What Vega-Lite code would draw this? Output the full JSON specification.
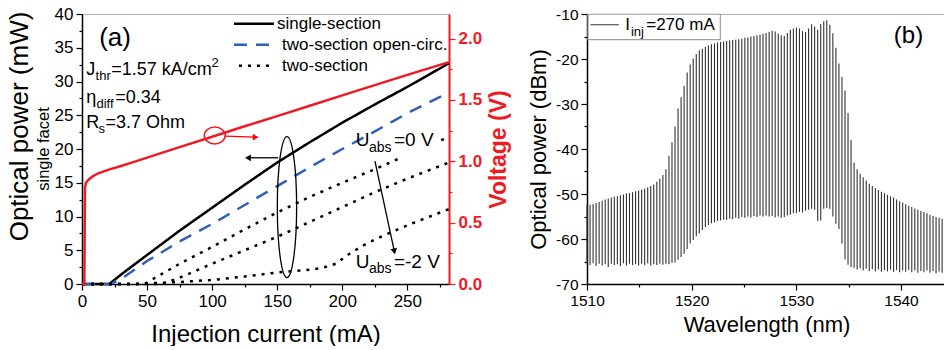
{
  "$schema": "https://vega.github.io/schema/vega-lite/v6.json",
  "background": "white",
  "padding": {"left": 6, "top": 5, "right": 0, "bottom": 0},
  "spacing": 16,
  "config": {
    "font": "Liberation Sans",
    "view": {"stroke": null},
    "axis": {"domainColor": "black", "tickColor": "black", "labelColor": "black", "titleColor": "black", "titleFontWeight": "normal", "grid": false, "domainWidth": 1.5, "tickWidth": 1.2, "labelFlush": false, "labelOverlap": false}
  },
  "hconcat": [
    {
      "width": 367,
      "height": 270,
      "layer": [
        {
          "layer": [
            {
              "data": {"values": [
                {"I": 0, "P": 0, "series": "single-section", "curve": "S"},
                {"I": 21, "P": 0, "series": "single-section", "curve": "S"},
                {"I": 30, "P": 1.4, "series": "single-section", "curve": "S"},
                {"I": 50, "P": 4.3, "series": "single-section", "curve": "S"},
                {"I": 75, "P": 7.9, "series": "single-section", "curve": "S"},
                {"I": 100, "P": 11.3, "series": "single-section", "curve": "S"},
                {"I": 125, "P": 14.7, "series": "single-section", "curve": "S"},
                {"I": 150, "P": 18.0, "series": "single-section", "curve": "S"},
                {"I": 175, "P": 21.0, "series": "single-section", "curve": "S"},
                {"I": 200, "P": 23.9, "series": "single-section", "curve": "S"},
                {"I": 225, "P": 26.6, "series": "single-section", "curve": "S"},
                {"I": 250, "P": 29.2, "series": "single-section", "curve": "S"},
                {"I": 282, "P": 32.7, "series": "single-section", "curve": "S"},
                {"I": 0, "P": 0, "series": "two-section open-circ.", "curve": "O"},
                {"I": 22, "P": 0, "series": "two-section open-circ.", "curve": "O"},
                {"I": 30, "P": 0.7, "series": "two-section open-circ.", "curve": "O"},
                {"I": 35, "P": 1.4, "series": "two-section open-circ.", "curve": "O"},
                {"I": 50, "P": 3.4, "series": "two-section open-circ.", "curve": "O"},
                {"I": 75, "P": 6.3, "series": "two-section open-circ.", "curve": "O"},
                {"I": 100, "P": 8.9, "series": "two-section open-circ.", "curve": "O"},
                {"I": 125, "P": 11.7, "series": "two-section open-circ.", "curve": "O"},
                {"I": 150, "P": 14.5, "series": "two-section open-circ.", "curve": "O"},
                {"I": 175, "P": 17.3, "series": "two-section open-circ.", "curve": "O"},
                {"I": 200, "P": 20.0, "series": "two-section open-circ.", "curve": "O"},
                {"I": 225, "P": 22.6, "series": "two-section open-circ.", "curve": "O"},
                {"I": 250, "P": 25.3, "series": "two-section open-circ.", "curve": "O"},
                {"I": 282, "P": 28.4, "series": "two-section open-circ.", "curve": "O"},
                {"I": 0, "P": 0, "series": "two-section", "curve": "A"},
                {"I": 48, "P": 0, "series": "two-section", "curve": "A"},
                {"I": 56, "P": 0.9, "series": "two-section", "curve": "A"},
                {"I": 75, "P": 3.0, "series": "two-section", "curve": "A"},
                {"I": 100, "P": 5.5, "series": "two-section", "curve": "A"},
                {"I": 125, "P": 8.1, "series": "two-section", "curve": "A"},
                {"I": 150, "P": 10.6, "series": "two-section", "curve": "A"},
                {"I": 175, "P": 12.9, "series": "two-section", "curve": "A"},
                {"I": 200, "P": 15.0, "series": "two-section", "curve": "A"},
                {"I": 225, "P": 17.0, "series": "two-section", "curve": "A"},
                {"I": 246, "P": 18.8, "series": "two-section", "curve": "A"},
                {"I": 276, "P": 21.3, "series": "two-section", "curve": "A2"},
                {"I": 282, "P": 21.8, "series": "two-section", "curve": "A2"},
                {"I": 0, "P": 0, "series": "two-section", "curve": "B"},
                {"I": 62, "P": 0, "series": "two-section", "curve": "B"},
                {"I": 77, "P": 1.1, "series": "two-section", "curve": "B"},
                {"I": 100, "P": 3.0, "series": "two-section", "curve": "B"},
                {"I": 125, "P": 5.0, "series": "two-section", "curve": "B"},
                {"I": 150, "P": 7.0, "series": "two-section", "curve": "B"},
                {"I": 175, "P": 9.2, "series": "two-section", "curve": "B"},
                {"I": 200, "P": 11.4, "series": "two-section", "curve": "B"},
                {"I": 225, "P": 13.6, "series": "two-section", "curve": "B"},
                {"I": 250, "P": 15.6, "series": "two-section", "curve": "B"},
                {"I": 282, "P": 18.0, "series": "two-section", "curve": "B"},
                {"I": 0, "P": 0, "series": "two-section", "curve": "C"},
                {"I": 40, "P": 0, "series": "two-section", "curve": "C"},
                {"I": 75, "P": 0.3, "series": "two-section", "curve": "C"},
                {"I": 100, "P": 0.6, "series": "two-section", "curve": "C"},
                {"I": 125, "P": 1.1, "series": "two-section", "curve": "C"},
                {"I": 150, "P": 1.7, "series": "two-section", "curve": "C"},
                {"I": 175, "P": 2.1, "series": "two-section", "curve": "C"},
                {"I": 185, "P": 2.4, "series": "two-section", "curve": "C"},
                {"I": 195, "P": 3.0, "series": "two-section", "curve": "C"},
                {"I": 205, "P": 4.4, "series": "two-section", "curve": "C"},
                {"I": 215, "P": 5.6, "series": "two-section", "curve": "C"},
                {"I": 225, "P": 6.6, "series": "two-section", "curve": "C"},
                {"I": 250, "P": 8.7, "series": "two-section", "curve": "C"},
                {"I": 282, "P": 11.1, "series": "two-section", "curve": "C"}
              ]},
              "mark": {"type": "line", "strokeWidth": 2.5, "strokeCap": "butt"},
              "encoding": {
                "x": {"field": "I", "type": "quantitative", "scale": {"domain": [0, 282], "nice": false, "zero": false},
                  "axis": {"orient": "bottom", "title": "Injection current (mA)", "titleFontSize": 24, "titlePadding": 13, "labelFontSize": 17, "labelPadding": 3,
                    "values": [0, 25, 50, 75, 100, 125, 150, 175, 200, 225, 250, 275],
                    "labelExpr": "datum.value % 50 === 0 ? datum.label : ''",
                    "tickSize": {"condition": {"test": "datum.value % 50 !== 0", "value": 3}, "value": 6}}},
                "y": {"field": "P", "type": "quantitative", "scale": {"domain": [0, 40], "nice": false, "zero": false},
                  "axis": {"orient": "left", "title": "Optical power (mW)", "titleFontSize": 26, "titlePadding": 22, "titleY": 112, "labelFontSize": 17, "labelPadding": 3,
                    "values": [0, 2.5, 5, 7.5, 10, 12.5, 15, 17.5, 20, 22.5, 25, 27.5, 30, 32.5, 35, 37.5, 40],
                    "labelExpr": "datum.value % 5 === 0 ? datum.label : ''",
                    "tickSize": {"condition": {"test": "datum.value % 5 !== 0", "value": 3}, "value": 6}}},
                "color": {"field": "series", "type": "nominal",
                  "scale": {"domain": ["single-section", "two-section open-circ.", "two-section"], "range": ["black", "#2f62b5", "black"]}, "legend": null},
                "strokeDash": {"field": "series", "type": "nominal",
                  "scale": {"domain": ["single-section", "two-section open-circ.", "two-section"], "range": [[1, 0], [13, 9], [3, 6]]}, "legend": null},
                "detail": {"field": "curve", "type": "nominal"}
              }
            },
            {
              "data": {"values": [
                {"series": "single-section", "x1": 116.8, "x2": 147.5, "P": 38.56},
                {"series": "two-section open-circ.", "x1": 116.8, "x2": 147.5, "P": 35.45},
                {"series": "two-section", "x1": 120.6, "x2": 147.5, "P": 32.34}
              ]},
              "mark": {"type": "rule", "strokeWidth": 2.5, "strokeCap": "butt"},
              "encoding": {
                "x": {"field": "x1", "type": "quantitative", "scale": {"domain": [0, 282], "nice": false, "zero": false}, "axis": null},
                "x2": {"field": "x2"},
                "y": {"field": "P", "type": "quantitative", "scale": {"domain": [0, 40], "nice": false, "zero": false}, "axis": null},
                "color": {"field": "series", "type": "nominal",
                  "scale": {"domain": ["single-section", "two-section open-circ.", "two-section"], "range": ["black", "#2f62b5", "black"]}, "legend": null},
                "strokeDash": {"field": "series", "type": "nominal",
                  "scale": {"domain": ["single-section", "two-section open-circ.", "two-section"], "range": [[1, 0], [13, 9], [3, 6]]}, "legend": null}
              }
            },
            {
              "data": {"values": [
                {"I": 149.8, "P": 38.56, "t": "single-section"},
                {"I": 153.7, "P": 35.45, "t": "two-section open-circ."},
                {"I": 153.7, "P": 32.34, "t": "two-section"}
              ]},
              "mark": {"type": "text", "fontSize": 17, "align": "left", "baseline": "middle", "color": "black"},
              "encoding": {
                "x": {"field": "I", "type": "quantitative", "scale": {"domain": [0, 282], "nice": false, "zero": false}, "axis": null},
                "y": {"field": "P", "type": "quantitative", "scale": {"domain": [0, 40], "nice": false, "zero": false}, "axis": null},
                "text": {"field": "t"}
              }
            },
            {
              "data": {"values": [{"I": 0, "P": 40}, {"I": 282, "P": 40}]},
              "mark": {"type": "rule", "opacity": 0},
              "encoding": {
                "x": {"field": "I", "type": "quantitative", "scale": {"domain": [0, 282], "nice": false, "zero": false},
                  "axis": {"orient": "top", "labels": false, "ticks": false, "title": null, "domainColor": "#b5b5b5", "domainWidth": 1}},
                "y": {"field": "P", "type": "quantitative", "scale": {"domain": [0, 40], "nice": false, "zero": false}, "axis": null}
              }
            },
            {
              "data": {"values": [
                {"I": 3.3, "P": 31.0, "t": "J"},
                {"I": 22.4, "P": 31.0, "t": "=1.57 kA/cm"},
                {"I": 3.3, "P": 26.86, "t": "η"},
                {"I": 25.6, "P": 26.86, "t": "=0.34"},
                {"I": 3.3, "P": 23.16, "t": "R"},
                {"I": 18.1, "P": 23.16, "t": "=3.7 Ohm"}
              ]},
              "mark": {"type": "text", "fontSize": 18, "align": "left", "baseline": "alphabetic", "color": "black"},
              "encoding": {
                "x": {"field": "I", "type": "quantitative", "scale": {"domain": [0, 282], "nice": false, "zero": false}, "axis": null},
                "y": {"field": "P", "type": "quantitative", "scale": {"domain": [0, 40], "nice": false, "zero": false}, "axis": null},
                "text": {"field": "t"}
              }
            },
            {
              "data": {"values": [
                {"I": 10.4, "P": 30.27, "t": "thr"},
                {"I": 99.5, "P": 32.2, "t": "2"},
                {"I": 11.1, "P": 26.12, "t": "diff"},
                {"I": 12.7, "P": 22.4, "t": "s"}
              ]},
              "mark": {"type": "text", "fontSize": 13, "align": "left", "baseline": "alphabetic", "color": "black"},
              "encoding": {
                "x": {"field": "I", "type": "quantitative", "scale": {"domain": [0, 282], "nice": false, "zero": false}, "axis": null},
                "y": {"field": "P", "type": "quantitative", "scale": {"domain": [0, 40], "nice": false, "zero": false}, "axis": null},
                "text": {"field": "t"}
              }
            },
            {
              "data": {"values": [
                {"I": 210.3, "P": 20.39, "t": "U"},
                {"I": 239.7, "P": 20.39, "t": "=0 V"},
                {"I": 210.3, "P": 2.37, "t": "U"},
                {"I": 239.7, "P": 2.37, "t": "=-2 V"}
              ]},
              "mark": {"type": "text", "fontSize": 19, "align": "left", "baseline": "alphabetic", "color": "black"},
              "encoding": {
                "x": {"field": "I", "type": "quantitative", "scale": {"domain": [0, 282], "nice": false, "zero": false}, "axis": null},
                "y": {"field": "P", "type": "quantitative", "scale": {"domain": [0, 40], "nice": false, "zero": false}, "axis": null},
                "text": {"field": "t"}
              }
            },
            {
              "data": {"values": [
                {"I": 220.5, "P": 19.6, "t": "abs"},
                {"I": 220.5, "P": 1.6, "t": "abs"}
              ]},
              "mark": {"type": "text", "fontSize": 14, "align": "left", "baseline": "alphabetic", "color": "black"},
              "encoding": {
                "x": {"field": "I", "type": "quantitative", "scale": {"domain": [0, 282], "nice": false, "zero": false}, "axis": null},
                "y": {"field": "P", "type": "quantitative", "scale": {"domain": [0, 40], "nice": false, "zero": false}, "axis": null},
                "text": {"field": "t"}
              }
            },
            {
              "data": {"values": [{"I": 25.4, "P": 36.5, "t": "(a)"}]},
              "mark": {"type": "text", "fontSize": 26, "align": "center", "baseline": "middle", "color": "black"},
              "encoding": {
                "x": {"field": "I", "type": "quantitative", "scale": {"domain": [0, 282], "nice": false, "zero": false}, "axis": null},
                "y": {"field": "P", "type": "quantitative", "scale": {"domain": [0, 40], "nice": false, "zero": false}, "axis": null},
                "text": {"field": "t"}
              }
            },
            {
              "data": {"values": [{"I": -29.4, "P": 20.0, "t": "single facet"}]},
              "mark": {"type": "text", "fontSize": 16.5, "angle": 270, "align": "center", "baseline": "middle", "color": "black"},
              "encoding": {
                "x": {"field": "I", "type": "quantitative", "scale": {"domain": [0, 282], "nice": false, "zero": false}, "axis": null},
                "y": {"field": "P", "type": "quantitative", "scale": {"domain": [0, 40], "nice": false, "zero": false}, "axis": null},
                "text": {"field": "t"}
              }
            },
            {
              "data": {"values": [
                {"I": 109.6, "P": 21.9, "I2": 133, "P2": 21.75, "c": "red"},
                {"I": 150.8, "P": 18.7, "I2": 128, "P2": 18.7, "c": "black"},
                {"I": 225.1, "P": 18.2, "I2": 240.0, "P2": 4.84, "c": "black"}
              ]},
              "mark": {"type": "rule", "strokeWidth": 1.3},
              "encoding": {
                "x": {"field": "I", "type": "quantitative", "scale": {"domain": [0, 282], "nice": false, "zero": false}, "axis": null},
                "y": {"field": "P", "type": "quantitative", "scale": {"domain": [0, 40], "nice": false, "zero": false}, "axis": null},
                "x2": {"field": "I2"},
                "y2": {"field": "P2"},
                "color": {"field": "c", "type": "nominal", "scale": null, "legend": null}
              }
            },
            {
              "data": {"values": [
                {"I": 133.5, "P": 21.75, "c": "red", "a": 90},
                {"I": 127.5, "P": 18.7, "c": "black", "a": 270},
                {"I": 240.0, "P": 4.84, "c": "black", "a": 168}
              ]},
              "mark": {"type": "point", "shape": "triangle-up", "filled": true, "size": 45, "opacity": 1},
              "encoding": {
                "x": {"field": "I", "type": "quantitative", "scale": {"domain": [0, 282], "nice": false, "zero": false}, "axis": null},
                "y": {"field": "P", "type": "quantitative", "scale": {"domain": [0, 40], "nice": false, "zero": false}, "axis": null},
                "angle": {"field": "a", "type": "quantitative", "scale": null},
                "color": {"field": "c", "type": "nominal", "scale": null, "legend": null}
              }
            },
            {
              "data": {"values": [{"I": 157.5, "P": 11.4}]},
              "mark": {"type": "point", "shape": "M0,-1A0.137,1 0 1,1 0,1A0.137,1 0 1,1 0,-1Z", "filled": false, "size": 19881, "stroke": "black", "strokeWidth": 1.3, "opacity": 1},
              "encoding": {
                "x": {"field": "I", "type": "quantitative", "scale": {"domain": [0, 282], "nice": false, "zero": false}, "axis": null},
                "y": {"field": "P", "type": "quantitative", "scale": {"domain": [0, 40], "nice": false, "zero": false}, "axis": null}
              }
            },
            {
              "data": {"values": [{"I": 102, "P": 22.0}]},
              "mark": {"type": "point", "shape": "M-1,0A1,0.8 0 1,1 1,0A1,0.8 0 1,1 -1,0Z", "filled": false, "size": 441, "stroke": "#ed1c24", "strokeWidth": 1.5, "opacity": 1},
              "encoding": {
                "x": {"field": "I", "type": "quantitative", "scale": {"domain": [0, 282], "nice": false, "zero": false}, "axis": null},
                "y": {"field": "P", "type": "quantitative", "scale": {"domain": [0, 40], "nice": false, "zero": false}, "axis": null}
              }
            }
          ],
          "resolve": {"axis": {"x": "independent", "y": "independent"}}
        },
        {
          "data": {"values": [
            {"I": 0, "V": 0}, {"I": 1.8, "V": 0}, {"I": 2.3, "V": 0.785}, {"I": 3, "V": 0.825}, {"I": 5, "V": 0.85},
            {"I": 8, "V": 0.875}, {"I": 12, "V": 0.9}, {"I": 20, "V": 0.93}, {"I": 30, "V": 0.962}, {"I": 40, "V": 0.995},
            {"I": 50, "V": 1.03}, {"I": 75, "V": 1.115}, {"I": 100, "V": 1.2}, {"I": 125, "V": 1.285}, {"I": 150, "V": 1.368},
            {"I": 175, "V": 1.452}, {"I": 200, "V": 1.537}, {"I": 225, "V": 1.62}, {"I": 250, "V": 1.704}, {"I": 282, "V": 1.808}
          ]},
          "mark": {"type": "line", "color": "#ed1c24", "strokeWidth": 2.5},
          "encoding": {
            "x": {"field": "I", "type": "quantitative", "scale": {"domain": [0, 282], "nice": false, "zero": false}, "axis": null},
            "y": {"field": "V", "type": "quantitative", "scale": {"domain": [0, 2.2], "nice": false, "zero": false},
              "axis": {"orient": "right", "title": "Voltage (V)", "titleColor": "#ed1c24", "titleFontWeight": "bold", "titleFontSize": 23, "titleAngle": 270, "titleBaseline": "top", "titlePadding": 6,
                "labelColor": "#ed1c24", "labelFontWeight": "bold", "labelFontSize": 17, "labelPadding": 3, "domainColor": "#ed1c24", "tickColor": "#ed1c24", "domainWidth": 2,
                "values": [0, 0.25, 0.5, 0.75, 1, 1.25, 1.5, 1.75, 2], "format": ".1f",
                "labelExpr": "round(datum.value * 100) % 50 === 0 ? datum.label : ''",
                "tickSize": {"condition": {"test": "round(datum.value * 100) % 50 !== 0", "value": 3}, "value": 6}}}
          }
        }
      ],
      "resolve": {"scale": {"y": "independent"}}
    },
    {
      "width": 359,
      "height": 270,
      "layer": [
        {
          "data": {"values": [
            {"w": 1510.00, "hi": -52.5, "lo": -65.3}, {"w": 1510.29, "hi": -52.4, "lo": -65.8}, {"w": 1510.58, "hi": -52.2, "lo": -65.4},
            {"w": 1510.87, "hi": -52.0, "lo": -66.0}, {"w": 1511.16, "hi": -51.8, "lo": -65.5}, {"w": 1511.45, "hi": -51.5, "lo": -65.9},
            {"w": 1511.74, "hi": -51.2, "lo": -65.6}, {"w": 1512.03, "hi": -51.0, "lo": -66.2}, {"w": 1512.32, "hi": -50.8, "lo": -65.5},
            {"w": 1512.61, "hi": -50.6, "lo": -65.8}, {"w": 1512.90, "hi": -50.5, "lo": -65.6}, {"w": 1513.19, "hi": -50.3, "lo": -66.0},
            {"w": 1513.48, "hi": -50.1, "lo": -65.4}, {"w": 1513.77, "hi": -49.9, "lo": -65.9}, {"w": 1514.06, "hi": -49.8, "lo": -65.5},
            {"w": 1514.35, "hi": -49.6, "lo": -65.8}, {"w": 1514.64, "hi": -49.4, "lo": -65.6}, {"w": 1514.93, "hi": -49.2, "lo": -65.9},
            {"w": 1515.22, "hi": -49.0, "lo": -65.5}, {"w": 1515.51, "hi": -48.8, "lo": -65.8}, {"w": 1515.80, "hi": -48.5, "lo": -65.4},
            {"w": 1516.09, "hi": -48.2, "lo": -65.9}, {"w": 1516.38, "hi": -47.9, "lo": -65.6}, {"w": 1516.67, "hi": -47.3, "lo": -65.8},
            {"w": 1516.96, "hi": -46.6, "lo": -65.5}, {"w": 1517.25, "hi": -45.8, "lo": -65.7}, {"w": 1517.54, "hi": -44.5, "lo": -65.5},
            {"w": 1517.83, "hi": -41.5, "lo": -65.6}, {"w": 1518.12, "hi": -38.5, "lo": -65.3}, {"w": 1518.41, "hi": -35.0, "lo": -65.2},
            {"w": 1518.70, "hi": -31.0, "lo": -64.6}, {"w": 1518.99, "hi": -28.5, "lo": -64.0}, {"w": 1519.28, "hi": -26.0, "lo": -63.3},
            {"w": 1519.57, "hi": -23.0, "lo": -62.2}, {"w": 1519.86, "hi": -21.2, "lo": -61.0}, {"w": 1520.15, "hi": -19.9, "lo": -60.2},
            {"w": 1520.44, "hi": -18.9, "lo": -59.4}, {"w": 1520.73, "hi": -18.1, "lo": -58.8}, {"w": 1521.02, "hi": -17.7, "lo": -58.0},
            {"w": 1521.31, "hi": -17.3, "lo": -57.4}, {"w": 1521.60, "hi": -17.0, "lo": -56.9}, {"w": 1521.89, "hi": -16.7, "lo": -56.5},
            {"w": 1522.18, "hi": -16.5, "lo": -56.3}, {"w": 1522.47, "hi": -16.3, "lo": -56.0}, {"w": 1522.76, "hi": -16.2, "lo": -55.9},
            {"w": 1523.05, "hi": -16.1, "lo": -55.7}, {"w": 1523.34, "hi": -16.0, "lo": -55.8}, {"w": 1523.63, "hi": -15.9, "lo": -55.5},
            {"w": 1523.92, "hi": -15.8, "lo": -55.6}, {"w": 1524.21, "hi": -15.7, "lo": -55.3}, {"w": 1524.50, "hi": -15.6, "lo": -55.5},
            {"w": 1524.79, "hi": -15.5, "lo": -55.1}, {"w": 1525.08, "hi": -15.3, "lo": -55.3}, {"w": 1525.37, "hi": -15.2, "lo": -55.0},
            {"w": 1525.66, "hi": -15.0, "lo": -55.2}, {"w": 1525.95, "hi": -14.9, "lo": -54.9}, {"w": 1526.24, "hi": -14.7, "lo": -55.1},
            {"w": 1526.53, "hi": -14.6, "lo": -54.8}, {"w": 1526.82, "hi": -14.4, "lo": -55.0}, {"w": 1527.11, "hi": -14.2, "lo": -54.8},
            {"w": 1527.40, "hi": -14.0, "lo": -55.0}, {"w": 1527.69, "hi": -13.7, "lo": -54.9}, {"w": 1527.98, "hi": -13.9, "lo": -55.2},
            {"w": 1528.27, "hi": -14.4, "lo": -55.0}, {"w": 1528.56, "hi": -14.7, "lo": -55.3}, {"w": 1528.85, "hi": -14.9, "lo": -55.1},
            {"w": 1529.14, "hi": -14.2, "lo": -54.8}, {"w": 1529.43, "hi": -13.5, "lo": -54.6}, {"w": 1529.72, "hi": -13.2, "lo": -54.3},
            {"w": 1530.01, "hi": -13.0, "lo": -54.2}, {"w": 1530.30, "hi": -13.2, "lo": -54.0}, {"w": 1530.59, "hi": -13.8, "lo": -54.1},
            {"w": 1530.88, "hi": -14.0, "lo": -53.7}, {"w": 1531.17, "hi": -13.2, "lo": -53.5}, {"w": 1531.46, "hi": -12.3, "lo": -53.3},
            {"w": 1531.75, "hi": -12.8, "lo": -53.5}, {"w": 1532.04, "hi": -13.5, "lo": -56.0}, {"w": 1532.33, "hi": -12.2, "lo": -55.9},
            {"w": 1532.62, "hi": -11.6, "lo": -53.3}, {"w": 1532.91, "hi": -11.4, "lo": -53.1}, {"w": 1533.20, "hi": -12.4, "lo": -53.3},
            {"w": 1533.49, "hi": -14.3, "lo": -55.0}, {"w": 1533.78, "hi": -17.5, "lo": -56.6}, {"w": 1534.07, "hi": -21.0, "lo": -57.8},
            {"w": 1534.36, "hi": -24.0, "lo": -61.0}, {"w": 1534.65, "hi": -27.0, "lo": -64.5}, {"w": 1534.94, "hi": -32.0, "lo": -65.7},
            {"w": 1535.23, "hi": -38.0, "lo": -66.2}, {"w": 1535.52, "hi": -43.0, "lo": -66.4}, {"w": 1535.81, "hi": -44.5, "lo": -66.8},
            {"w": 1536.10, "hi": -45.5, "lo": -66.5}, {"w": 1536.39, "hi": -46.3, "lo": -67.0}, {"w": 1536.68, "hi": -47.0, "lo": -66.6},
            {"w": 1536.97, "hi": -47.7, "lo": -67.1}, {"w": 1537.26, "hi": -48.2, "lo": -66.7}, {"w": 1537.55, "hi": -48.7, "lo": -67.2},
            {"w": 1537.84, "hi": -49.1, "lo": -66.8}, {"w": 1538.13, "hi": -49.5, "lo": -67.3}, {"w": 1538.42, "hi": -49.8, "lo": -66.9},
            {"w": 1538.71, "hi": -50.2, "lo": -67.2}, {"w": 1539.00, "hi": -50.5, "lo": -66.8}, {"w": 1539.29, "hi": -50.8, "lo": -67.3},
            {"w": 1539.58, "hi": -51.2, "lo": -66.9}, {"w": 1539.87, "hi": -51.6, "lo": -67.4}, {"w": 1540.16, "hi": -51.9, "lo": -67.0},
            {"w": 1540.45, "hi": -52.3, "lo": -67.3}, {"w": 1540.74, "hi": -52.6, "lo": -66.9}, {"w": 1541.03, "hi": -52.9, "lo": -67.4},
            {"w": 1541.32, "hi": -53.2, "lo": -67.0}, {"w": 1541.61, "hi": -53.5, "lo": -67.5}, {"w": 1541.90, "hi": -53.8, "lo": -67.1},
            {"w": 1542.19, "hi": -54.0, "lo": -67.4}, {"w": 1542.48, "hi": -54.3, "lo": -67.0}, {"w": 1542.77, "hi": -54.6, "lo": -67.5},
            {"w": 1543.06, "hi": -54.9, "lo": -67.1}, {"w": 1543.35, "hi": -55.1, "lo": -67.6}, {"w": 1543.64, "hi": -55.3, "lo": -67.2},
            {"w": 1543.93, "hi": -55.5, "lo": -67.5}, {"w": 1544.22, "hi": -55.7, "lo": -67.3}
          ]},
          "mark": {"type": "rule", "color": "#333333", "strokeWidth": 1.1},
          "encoding": {
            "x": {"field": "w", "type": "quantitative", "scale": {"domain": [1510, 1544.3], "nice": false, "zero": false},
              "axis": {"orient": "bottom", "title": "Wavelength (nm)", "titleFontSize": 22, "titlePadding": 6, "labelFontSize": 15.5, "labelPadding": 3,
                "values": [1510, 1515, 1520, 1525, 1530, 1535, 1540],
                "labelExpr": "datum.value % 10 === 0 ? '' + datum.value : ''",
                "tickSize": {"condition": {"test": "datum.value % 10 !== 0", "value": 3}, "value": 6}}},
            "y": {"field": "lo", "type": "quantitative", "scale": {"domain": [-70, -10], "nice": false, "zero": false},
              "axis": {"orient": "left", "title": "Optical power (dBm)", "titleFontSize": 22, "titlePadding": 5, "labelFontSize": 15.5, "labelPadding": 3,
                "values": [-70, -65, -60, -55, -50, -45, -40, -35, -30, -25, -20, -15, -10],
                "labelExpr": "datum.value % 10 === 0 ? '' + datum.value : ''",
                "tickSize": {"condition": {"test": "datum.value % 10 !== 0", "value": 3}, "value": 6}}},
            "y2": {"field": "hi"}
          }
        },
        {
          "data": {"values": [{"x1": 1510.1, "x2": 1522.74, "y1": -10.05, "y2": -15.7}]},
          "mark": {"type": "rect", "fill": "white", "stroke": "#a0a0a0", "strokeWidth": 1.2},
          "encoding": {
            "x": {"field": "x1", "type": "quantitative", "scale": {"domain": [1510, 1544.3], "nice": false, "zero": false},
              "axis": {"orient": "top", "labels": false, "ticks": false, "title": null, "domainColor": "#b5b5b5", "domainWidth": 1}},
            "x2": {"field": "x2"},
            "y": {"field": "y1", "type": "quantitative", "scale": {"domain": [-70, -10], "nice": false, "zero": false}, "axis": null},
            "y2": {"field": "y2"}
          }
        },
        {
          "data": {"values": [{"x1": 1510.32, "x2": 1513.03, "y": -12.38}]},
          "mark": {"type": "rule", "color": "#555555", "strokeWidth": 1.2},
          "encoding": {
            "x": {"field": "x1", "type": "quantitative", "scale": {"domain": [1510, 1544.3], "nice": false, "zero": false}, "axis": null},
            "x2": {"field": "x2"},
            "y": {"field": "y", "type": "quantitative", "scale": {"domain": [-70, -10], "nice": false, "zero": false}, "axis": null}
          }
        },
        {
          "data": {"values": [{"w": 1513.66, "v": -13.64, "t": "I"}, {"w": 1515.66, "v": -13.64, "t": "=270 mA"}]},
          "mark": {"type": "text", "fontSize": 17, "align": "left", "baseline": "alphabetic", "color": "black"},
          "encoding": {
            "x": {"field": "w", "type": "quantitative", "scale": {"domain": [1510, 1544.3], "nice": false, "zero": false}, "axis": null},
            "y": {"field": "v", "type": "quantitative", "scale": {"domain": [-70, -10], "nice": false, "zero": false}, "axis": null},
            "text": {"field": "t"}
          }
        },
        {
          "data": {"values": [{"w": 1514.2, "v": -14.82, "t": "inj"}]},
          "mark": {"type": "text", "fontSize": 13, "align": "left", "baseline": "alphabetic", "color": "black"},
          "encoding": {
            "x": {"field": "w", "type": "quantitative", "scale": {"domain": [1510, 1544.3], "nice": false, "zero": false}, "axis": null},
            "y": {"field": "v", "type": "quantitative", "scale": {"domain": [-70, -10], "nice": false, "zero": false}, "axis": null},
            "text": {"field": "t"}
          }
        },
        {
          "data": {"values": [{"w": 1540.72, "v": -14.8, "t": "(b)"}]},
          "mark": {"type": "text", "fontSize": 24, "align": "center", "baseline": "middle", "color": "black"},
          "encoding": {
            "x": {"field": "w", "type": "quantitative", "scale": {"domain": [1510, 1544.3], "nice": false, "zero": false}, "axis": null},
            "y": {"field": "v", "type": "quantitative", "scale": {"domain": [-70, -10], "nice": false, "zero": false}, "axis": null},
            "text": {"field": "t"}
          }
        }
      ],
      "resolve": {"axis": {"x": "independent", "y": "independent"}}
    }
  ]
}
